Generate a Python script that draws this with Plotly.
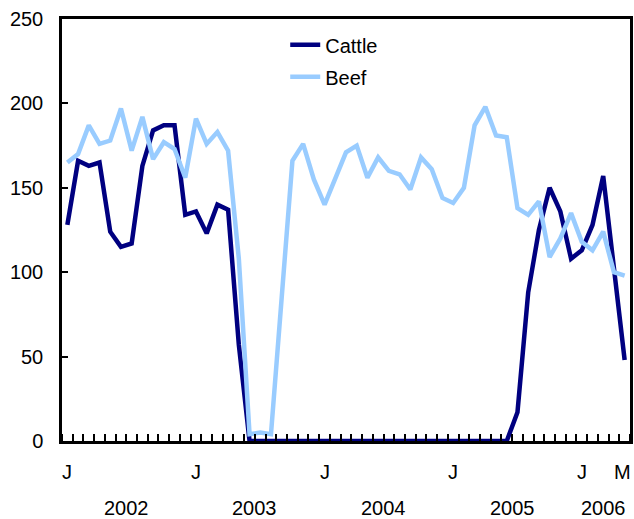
import plotly.graph_objects as go

# Monthly index, Jan 2002 .. May 2006
cattle = [128, 166, 163, 165, 124, 115, 117, 163, 184, 187, 187, 134, 136, 123, 140, 137, 57,
          0, 0, 0, 0, 0, 0, 0, 0, 0, 0, 0, 0, 0, 0, 0, 0, 0, 0, 0, 0, 0, 0, 0, 0, 0,
          17, 88, 125, 150, 136, 108, 113, 128, 157, 100, 48]
beef = [165, 170, 187, 176, 178, 197, 172, 192, 167, 177,
        173, 156, 191, 176, 183, 172, 108, 4, 5, 4,
        85, 166, 176, 155, 140, 155, 171, 175, 156, 168,
        160, 158, 149, 168, 161, 144, 141, 150, 187, 198,
        181, 180, 138, 134, 142, 109, 120, 135, 118, 113,
        124, 100, 98]
months = list(range(len(cattle)))

month_label_pos = [0, 12, 24, 36, 48, 52]
month_labels = ["J", "J", "J", "J", "J", "M"]
year_label_pos = [5.5, 17.5, 29.5, 41.5, 50]
year_labels = ["2002", "2003", "2004", "2005", "2006"]
y_ticks = [0, 50, 100, 150, 200, 250]

FONT = "Liberation Sans, Arial, sans-serif"

fig = go.Figure()
fig.add_trace(go.Scatter(x=months, y=cattle, mode="lines", name="Cattle",
                         line=dict(color="#000080", width=4.5), legendgroup="a"))
fig.add_trace(go.Scatter(x=months, y=beef, mode="lines", name="Beef",
                         line=dict(color="#99CCFF", width=4.5), legendgroup="b"))

annotations = []
for p, t in zip(month_label_pos, month_labels):
    annotations.append(dict(x=p, y=-0.073, xref="x", yref="paper", text=t, showarrow=False,
                            xanchor="right" if t == "M" else "center", yanchor="middle",
                            xshift=8 if t == "M" else 0,
                            font=dict(size=20, color="black", family=FONT)))
for p, t in zip(year_label_pos, year_labels):
    annotations.append(dict(x=p, y=-0.159, xref="x", yref="paper", text=t, showarrow=False,
                            xanchor="center", yanchor="middle",
                            font=dict(size=20, color="black", family=FONT)))

fig.update_layout(
    width=634, height=519,
    margin=dict(l=62, r=1, t=19, b=78),
    paper_bgcolor="white", plot_bgcolor="white",
    font=dict(family=FONT, size=20, color="black"),
    showlegend=True,
    legend=dict(x=0.393, y=0.985, xanchor="left", yanchor="top",
                bgcolor="rgba(0,0,0,0)", font=dict(size=20), tracegroupgap=3),
    annotations=annotations,
)
fig.update_xaxes(range=[-0.5, 52.5], showgrid=False, zeroline=False,
                 showline=True, linecolor="black", linewidth=3, mirror=True,
                 showticklabels=False, ticks="",
                 minor=dict(tickmode="linear", tick0=0.5, dtick=1, ticks="inside",
                            ticklen=7, tickwidth=2, tickcolor="black", showgrid=False))
fig.update_yaxes(range=[0, 250], tickvals=y_ticks, showgrid=False, zeroline=False,
                 showline=True, linecolor="black", linewidth=2.5, mirror=True,
                 ticks="inside", ticklen=6, tickwidth=2, tickcolor="black",
                 ticklabelstandoff=12, tickfont=dict(size=20))

fig.write_html("out.html", config={"displayModeBar": False},
               post_script="document.body.style.margin='0';")
